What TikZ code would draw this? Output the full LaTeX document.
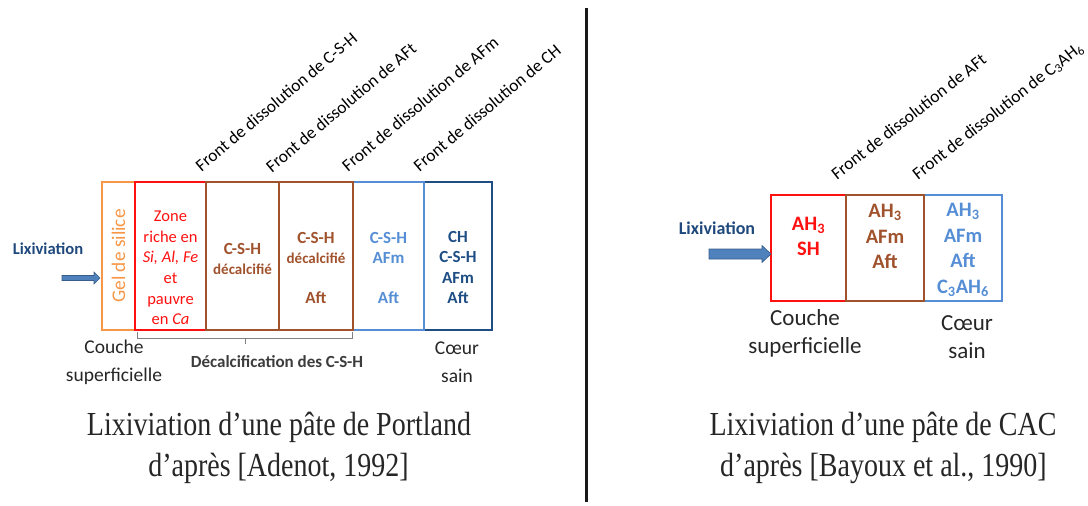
\documentclass[tikz,border=0pt]{standalone}
\usepackage{fontspec}
\setmainfont{Carlito}
\newfontfamily\tnr{Liberation Serif}
\definecolor{cOr}{HTML}{F79646}
\definecolor{cRed}{HTML}{FF1010}
\definecolor{cBr}{HTML}{A0522D}
\definecolor{cLB}{HTML}{558ED5}
\definecolor{cDB}{HTML}{1F4E85}
\definecolor{cLix}{HTML}{1F497D}
\definecolor{cArF}{HTML}{4F81BD}
\definecolor{cArD}{HTML}{385D8A}
\definecolor{cTxt}{HTML}{262626}
\definecolor{cGray}{HTML}{808080}
\begin{document}
\begin{tikzpicture}[x=1pt,y=-1pt,
  every node/.style={inner sep=0pt,outer sep=0pt},
  boxL/.style={draw,line width=1.3pt,minimum height=148pt},
  boxR/.style={draw,line width=1.3pt,minimum height=106pt},
  ltxt/.style={align=center,font=\bfseries\fontsize{17}{20.3}\selectfont},
  rtxt/.style={align=center,font=\bfseries\fontsize{20.5}{25.5}\selectfont},
  frontL/.style={anchor=base west,rotate=40,font=\fontsize{17.4}{20}\selectfont},
  frontR/.style={anchor=base west,rotate=38,font=\fontsize{17.5}{20}\selectfont},
  lab/.style={align=center,text=cTxt},
  captxt/.style={anchor=base,text=cTxt,font=\tnr\fontsize{28}{30}\selectfont},
  blockarrow/.style={fill=cArF,draw=cArD,line width=0.6pt},
]
\useasboundingbox (0,0) rectangle (1088,506);

% ---------------- left diagram ----------------
\node[boxL,draw=cOr,minimum width=33pt] (gel) at (118.5,256) {};
\node[boxL,draw=cRed,minimum width=71pt] (zr) at (170.5,256) {};
\node[boxL,draw=cBr,minimum width=73pt] (d1) at (242.5,256) {};
\node[boxL,draw=cDB,minimum width=68pt] (db) at (458,256) {};
\node[boxL,draw=cLB,minimum width=71pt] (lb) at (388.5,256) {};
\node[boxL,draw=cBr,minimum width=74pt] (d2) at (316,256) {};

\node[rotate=90,text=cOr,font=\fontsize{19.3}{22}\selectfont] (tgel) at (118.5,256) {Gel de silice};
\node[align=center,text=cRed,font=\fontsize{16.5}{20.7}\selectfont] (tzr) at (170.5,268)
  {Zone\\riche en\\\textit{Si, Al, Fe}\\et\\pauvre\\en \textit{Ca}};
\node[ltxt,text=cBr] (td1) at (242.5,259) {C-S-H\\{\fontsize{15}{20.3}\selectfont décalcifié}};
\node[ltxt,text=cBr] (td2) at (316,268) {C-S-H\\{\fontsize{15}{20.3}\selectfont décalcifié}\\[20.3pt]Aft};
\node[ltxt,text=cLB] (tlb) at (388.5,268) {C-S-H\\AFm\\[20.3pt]Aft};
\node[ltxt,text=cDB] (tdb) at (458,267.5) {CH\\C-S-H\\AFm\\Aft};

\node[frontL] (f1) at (201.5,172) {Front de dissolution de C-S-H};
\node[frontL] (f2) at (272,173) {Front de dissolution de AFt};
\node[frontL] (f3) at (348,172) {Front de dissolution de AFm};
\node[frontL] (f4) at (419.5,172) {Front de dissolution de CH};

\node[text=cLix,font=\bfseries\fontsize{16.6}{20}\selectfont] (lixL) at (48,249) {Lixiviation};
\coordinate (aL) at (100,278);
\draw[blockarrow] (aL) -- ++(-6,-6) -- ++(0,3.5) -- ++(-32,0) -- ++(0,5) -- ++(32,0) -- ++(0,3.5) -- cycle;

\coordinate (brA) at (137,332);
\coordinate (brB) at (352,332);
\coordinate (brM) at (245,338);
\draw[cGray,line width=0.9pt] (brA) -- (brA |- brM) -- (brB |- brM) -- (brB);
\draw[cGray,line width=0.9pt] (brM) -- ++(0,6);
\node[text=cTxt!90,font=\bfseries\fontsize{17}{20}\selectfont] (dec) at (277,362) {Décalcification des C-S-H};

\node[lab,font=\fontsize{19.5}{28}\selectfont] (csL) at (114,362) {Couche\\superficielle};
\node[lab,font=\fontsize{19.5}{28}\selectfont] (cqL) at (457,362) {Cœur\\sain};

\node[captxt] (c1) at (279,435) {\scalebox{1}[1.2]{Lixiviation d’une pâte de Portland}};
\node[captxt] (c2) at (278.5,476) {\scalebox{1}[1.2]{d’après [Adenot, 1992]}};

% ---------------- separator ----------------
\coordinate (sepT) at (586.5,8);
\coordinate (sepB) at (586.5,502);
\draw[line width=3pt,black!90] (sepT) -- (sepB);

% ---------------- right diagram ----------------
\node[boxR,draw=cRed,minimum width=75pt] (r1) at (808.5,248) {};
\node[boxR,draw=cLB,minimum width=78pt] (r3) at (963,248) {};
\node[boxR,draw=cBr,minimum width=78pt] (r2) at (885,248) {};

\node[rtxt,text=cRed] (tr1) at (808.5,236.5) {AH\textsubscript{3}\\SH};
\node[rtxt,text=cBr] (tr2) at (885,236.5) {AH\textsubscript{3}\\AFm\\Aft};
\node[rtxt,text=cLB] (tr3) at (963,250) {AH\textsubscript{3}\\AFm\\Aft\\C\textsubscript{3}AH\textsubscript{6}};

\node[frontR] (g1) at (837,180) {Front de dissolution de AFt};
\node[frontR] (g2) at (918,180) {Front de dissolution de C\textsubscript{3}AH\textsubscript{6}};

\node[text=cLix,font=\bfseries\fontsize{18}{22}\selectfont] (lixR) at (717,228) {Lixiviation};
\coordinate (aR) at (771,254);
\draw[blockarrow] (aR) -- ++(-9,-8.5) -- ++(0,3.5) -- ++(-53,0) -- ++(0,10) -- ++(53,0) -- ++(0,3.5) -- cycle;

\node[lab,font=\fontsize{23}{28}\selectfont] (csR) at (805,333) {Couche\\superficielle};
\node[lab,font=\fontsize{23}{28}\selectfont] (cqR) at (967,337) {Cœur\\sain};

\node[captxt] (c3) at (883,435) {\scalebox{1}[1.2]{Lixiviation d’une pâte de CAC}};
\node[captxt] (c4) at (883.5,476) {\scalebox{1}[1.2]{d’après [Bayoux et al., 1990]}};
\end{tikzpicture}
\end{document}
